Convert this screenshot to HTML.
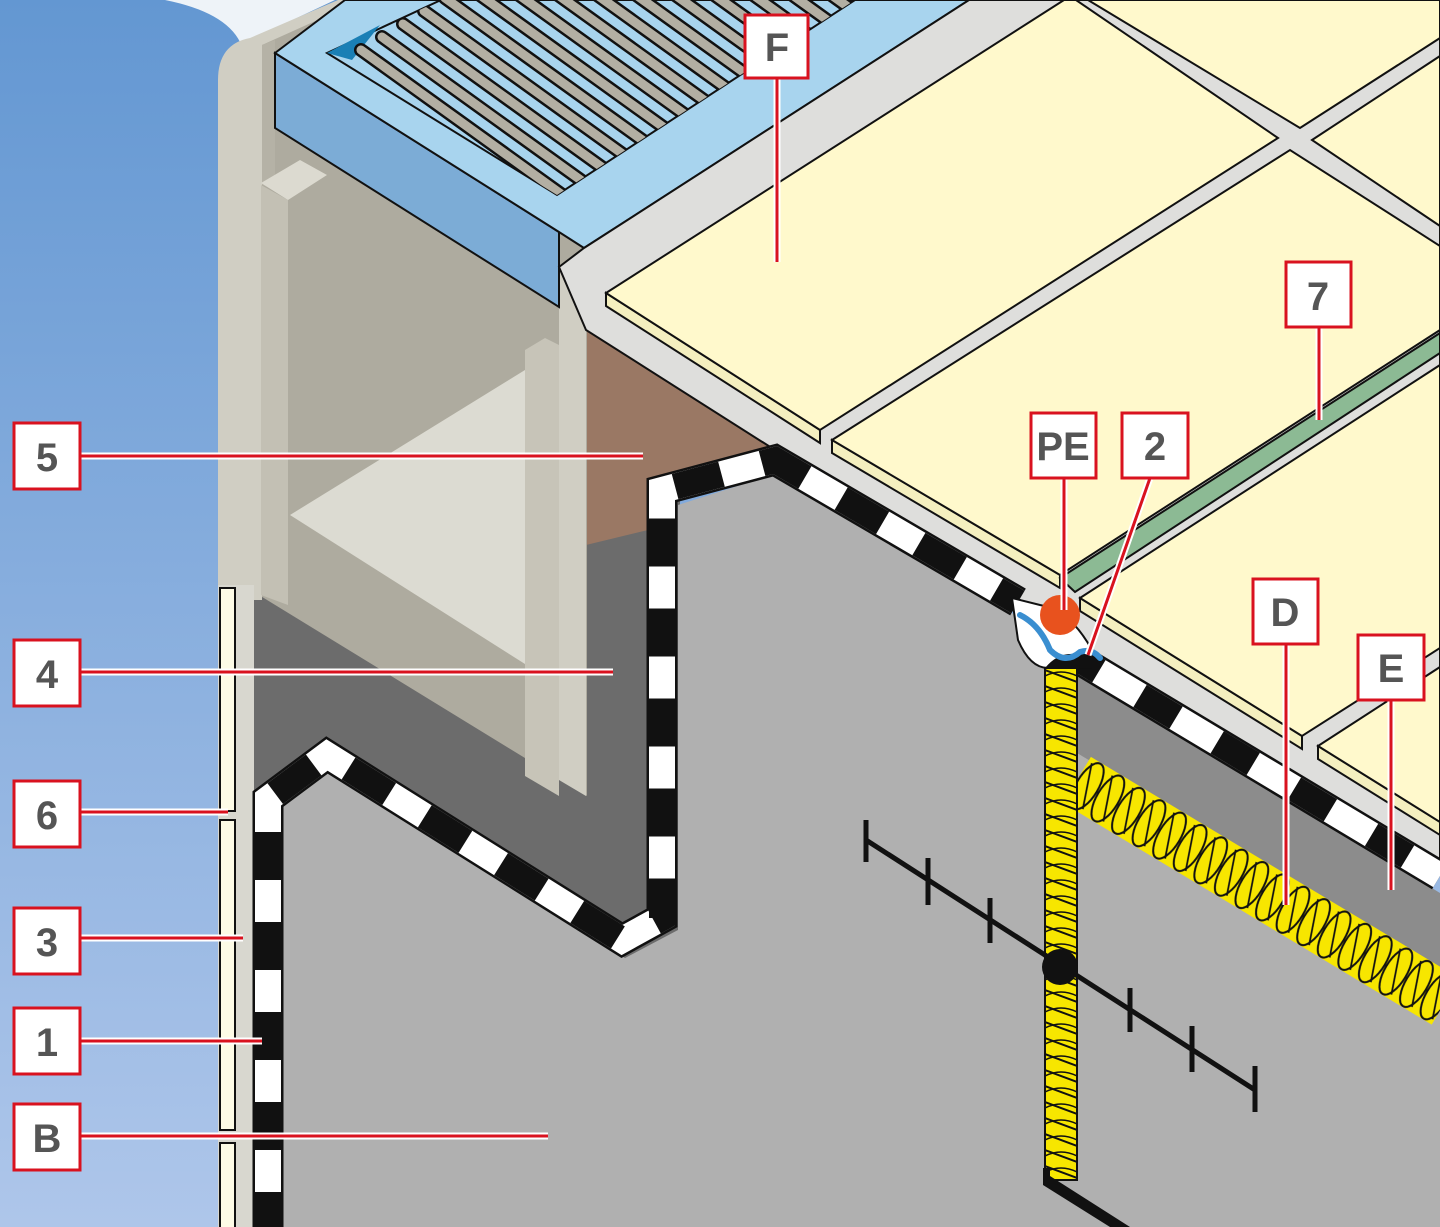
<!DOCTYPE html>
<html><head><meta charset="utf-8"><style>
html,body{margin:0;padding:0;}
body{width:1440px;height:1227px;overflow:hidden;}
svg{display:block;}
.lb{font-family:"Liberation Sans",sans-serif;font-weight:bold;font-size:40px;fill:#555;}
</style></head><body>
<svg width="1440" height="1227" viewBox="0 0 1440 1227" xmlns="http://www.w3.org/2000/svg">
<defs>
<linearGradient id="bg" x1="0" y1="0" x2="0" y2="1">
<stop offset="0" stop-color="#6397d2"/><stop offset="1" stop-color="#aec6ea"/></linearGradient>
<pattern id="rope" width="32" height="16" patternUnits="userSpaceOnUse" x="1045" y="668">
<rect width="32" height="16" fill="#f7e600"/>
<path d="M0,2 L32,14 M0,-14 L32,-2 M0,18 L32,30" stroke="#111" stroke-width="2"/>
<path d="M0,8 Q16,0 32,8" fill="none" stroke="#111" stroke-width="1.5"/>
</pattern>
<pattern id="rope2" width="24" height="56" patternUnits="userSpaceOnUse" y="-28">
<rect width="24" height="56" fill="#f7e600"/>
<ellipse cx="12" cy="28" rx="11" ry="26" fill="#f7e600" stroke="#111" stroke-width="2"/>
<path d="M4,6 L20,50" stroke="#111" stroke-width="1.8"/>
</pattern>
<clipPath id="rec"><polygon points="327,53 441,0 855,0 557,195"/></clipPath>
</defs>
<rect width="1440" height="1227" fill="url(#bg)"/>
<path d="M165,0 Q225,12 240,42 L250,40 L335,0 Z" fill="#eef3f8"/>

<!-- dark grey behind -->
<rect x="254" y="470" width="426" height="520" fill="#6c6c6c"/>
<polygon points="586,320 780,446 648,478 648,530 586,545" fill="#9a7864"/>

<!-- beige wall -->
<polygon points="250,40 340,0 600,0 587,280 587,796 254,592" fill="#aeab9f"/>
<path d="M218,600 L218,80 Q218,44 250,38 L338,0 L362,0 L262,45 L262,600 Z" fill="#d0cec3"/>
<polygon points="262,45 275,40 275,190 262,185" fill="#b5b2a6"/>
<polygon points="261,185 288,200 288,605 261,595" fill="#c3c0b4"/>
<polygon points="261,183 300,160 327,175 288,200" fill="#dcdad0"/>
<polygon points="290,515 525,370 525,664" fill="#dcdbd2"/>
<polygon points="525,350 545,338 559,345 559,796 525,776" fill="#c7c4b8"/>
<polygon points="559,267 584,250 586,280 586,796 559,780" fill="#d0cec3"/>
<polygon points="218,585 254,585 254,1227 218,1227" fill="#d8d7cf"/>
<rect x="220" y="588" width="15" height="223" fill="#fdfbe6" stroke="#111" stroke-width="2"/>
<rect x="220" y="820" width="15" height="310" fill="#fdfbe6" stroke="#111" stroke-width="2"/>
<rect x="220" y="1143" width="15" height="100" fill="#fdfbe6" stroke="#111" stroke-width="2"/>

<!-- grate -->
<polygon points="275,53 559,232 559,307 275,128" fill="#7cacd6" stroke="#111" stroke-width="2"/>
<polygon points="275,53 345,0 969,0 584,248 559,232" fill="#a8d4ee" stroke="#111" stroke-width="2"/>
<polygon points="327,53 441,0 855,0 557,195" fill="#a8d4ee" stroke="#111" stroke-width="2"/>
<polygon points="327,53 380,25 352,60" fill="#1a7fb5"/>
<g clip-path="url(#rec)" stroke-linecap="round">
<g stroke="#111" stroke-width="14">
<path d="M361,50 l400,288 M382,37 l400,288 M403,24 l400,288 M424,11 l400,288 M445,-2 l400,288 M466,-15 l400,288 M487,-28 l400,288 M508,-41 l400,288 M529,-54 l400,288 M550,-67 l400,288 M571,-80 l400,288 M592,-93 l400,288 M613,-106 l400,288 M634,-119 l400,288 M655,-132 l400,288 M676,-145 l400,288 M697,-158 l400,288 M718,-171 l400,288 M739,-184 l400,288"/>
</g>
<g stroke="#b3afa3" stroke-width="9">
<path d="M361,50 l400,288 M382,37 l400,288 M403,24 l400,288 M424,11 l400,288 M445,-2 l400,288 M466,-15 l400,288 M487,-28 l400,288 M508,-41 l400,288 M529,-54 l400,288 M550,-67 l400,288 M571,-80 l400,288 M592,-93 l400,288 M613,-106 l400,288 M634,-119 l400,288 M655,-132 l400,288 M676,-145 l400,288 M697,-158 l400,288 M718,-171 l400,288 M739,-184 l400,288"/>
</g>
</g>

<!-- tile base -->
<polygon points="559,267 584,248 969,0 1440,0 1440,870 1085,655 1020,600 775,450 586,330" fill="#dededc" stroke="#111" stroke-width="2"/>
<g stroke="#111" stroke-width="2" fill="#fff9cc">
<polygon points="606,306 820,443 820,430 606,293" fill="#f4efbf"/>
<polygon points="606,293 1064,0 1076,0 1278,138 820,430"/>
<polygon points="1088,0 1440,0 1440,38 1300,128"/>
<polygon points="1312,140 1440,56 1440,226"/>
<polygon points="832,453 1060,588 1060,575 832,440" fill="#f4efbf"/>
<polygon points="832,440 1290,150 1440,246 1440,330 1060,575"/>
<polygon points="1060,578 1440,333 1440,353 1075,592" fill="#8cba94"/>
<polygon points="1080,611 1302,749 1302,736 1080,598" fill="#f4efbf"/>
<polygon points="1080,598 1440,365 1440,648 1302,736"/>
<polygon points="1318,759 1440,835 1440,822 1318,746" fill="#f4efbf"/>
<polygon points="1318,746 1440,667 1440,822"/>
</g>

<!-- concrete B -->
<polygon points="282,1227 282,806 328,771 625,958 678,930 678,505 775,474 1015,615 1060,668 1440,895 1440,1227" fill="#b0b0b0"/>
<polygon points="1077,672 1440,893 1440,970 1077,753" fill="#8c8c8c"/>

<!-- membrane -->
<g fill="none" stroke-linejoin="miter">
<path d="M268,1240 L268,799 L327,755 L622,940 L662,918 L662,490 L775,460 L1018,602" stroke="#111" stroke-width="31"/>
<path d="M268,1240 L268,799 L327,755 L622,940 L662,918 L662,490 L775,460 L1018,602" stroke="#fff" stroke-width="26"/>
<path d="M268,1240 L268,799 L327,755 L622,940 L662,918 L662,490 L775,460 L1018,602" stroke="#111" stroke-width="26" stroke-dasharray="48 42"/>
<path d="M1080,660 L1440,876" stroke="#111" stroke-width="31"/>
<path d="M1080,660 L1440,876" stroke="#fff" stroke-width="26"/>
<path d="M1080,660 L1440,876" stroke="#111" stroke-width="26" stroke-dasharray="42 48" stroke-dashoffset="20"/>
</g>
<path d="M1012,598 L1018,640 Q1030,668 1048,668 L1092,668 L1092,650 Q1070,610 1040,605 Z" fill="#fff" stroke="#111" stroke-width="2"/>
<path d="M1045,668 Q1060,650 1080,655 L1092,650 L1092,668 L1045,672 Z" fill="#111"/>
<circle cx="1060" cy="615" r="20" fill="#e8521e"/>
<path d="M1020,615 Q1040,625 1050,650 Q1065,665 1080,652 Q1092,648 1100,658" fill="none" stroke="#3a8ed0" stroke-width="6" stroke-linecap="round"/>

<!-- ropes -->
<g transform="translate(1077,780) rotate(31)">
<rect x="0" y="-27" width="430" height="54" fill="url(#rope2)"/>
</g>
<rect x="1045" y="668" width="32" height="512" fill="url(#rope)" stroke="#111" stroke-width="2"/>
<polygon points="1043,1168 1050,1168 1050,1176 1130,1227 1110,1227 1043,1185" fill="#111"/>

<!-- measure -->
<g stroke="#111" stroke-width="5">
<line x1="866" y1="840" x2="1255" y2="1090"/>
<line x1="866" y1="820" x2="866" y2="862"/>
<line x1="928" y1="858" x2="928" y2="905"/>
<line x1="990" y1="898" x2="990" y2="943"/>
<line x1="1130" y1="988" x2="1130" y2="1032"/>
<line x1="1192" y1="1026" x2="1192" y2="1072"/>
<line x1="1255" y1="1066" x2="1255" y2="1112"/>
</g>
<circle cx="1060" cy="967" r="18" fill="#111"/>

<!-- leader lines -->
<g fill="none" stroke-linecap="butt">
<g stroke="#fff" stroke-width="7">
<path d="M777,78 V262 M80,456 H643 M80,672 H613 M80,812 H228 M80,938 H243 M80,1041 H262 M80,1136 H548 M1319,327 V420 M1064,478 V610 M1150,478 L1088,655 M1286,644 V905 M1391,700 V890"/>
</g>
<g stroke="#d9121f" stroke-width="3">
<path d="M777,78 V262 M80,456 H643 M80,672 H613 M80,812 H228 M80,938 H243 M80,1041 H262 M80,1136 H548 M1319,327 V420 M1064,478 V610 M1150,478 L1088,655 M1286,644 V905 M1391,700 V890"/>
</g>
</g>
<g fill="#fff" stroke="#d9121f" stroke-width="3">
<rect x="745" y="15" width="63" height="63"/>
<rect x="14" y="423" width="66" height="66"/>
<rect x="14" y="640" width="66" height="66"/>
<rect x="14" y="781" width="66" height="66"/>
<rect x="14" y="908" width="66" height="66"/>
<rect x="14" y="1008" width="66" height="66"/>
<rect x="14" y="1104" width="66" height="66"/>
<rect x="1286" y="262" width="65" height="65"/>
<rect x="1031" y="413" width="65" height="65"/>
<rect x="1122" y="413" width="66" height="65"/>
<rect x="1253" y="579" width="65" height="65"/>
<rect x="1358" y="635" width="66" height="65"/>
</g>
<g class="lb" text-anchor="middle">
<text x="777" y="61">F</text>
<text x="47" y="471">5</text>
<text x="47" y="688">4</text>
<text x="47" y="829">6</text>
<text x="47" y="956">3</text>
<text x="47" y="1056">1</text>
<text x="47" y="1152">B</text>
<text x="1318" y="310">7</text>
<text x="1063" y="460">PE</text>
<text x="1155" y="460">2</text>
<text x="1285" y="626">D</text>
<text x="1391" y="682">E</text>
</g>
</svg>
</body></html>
